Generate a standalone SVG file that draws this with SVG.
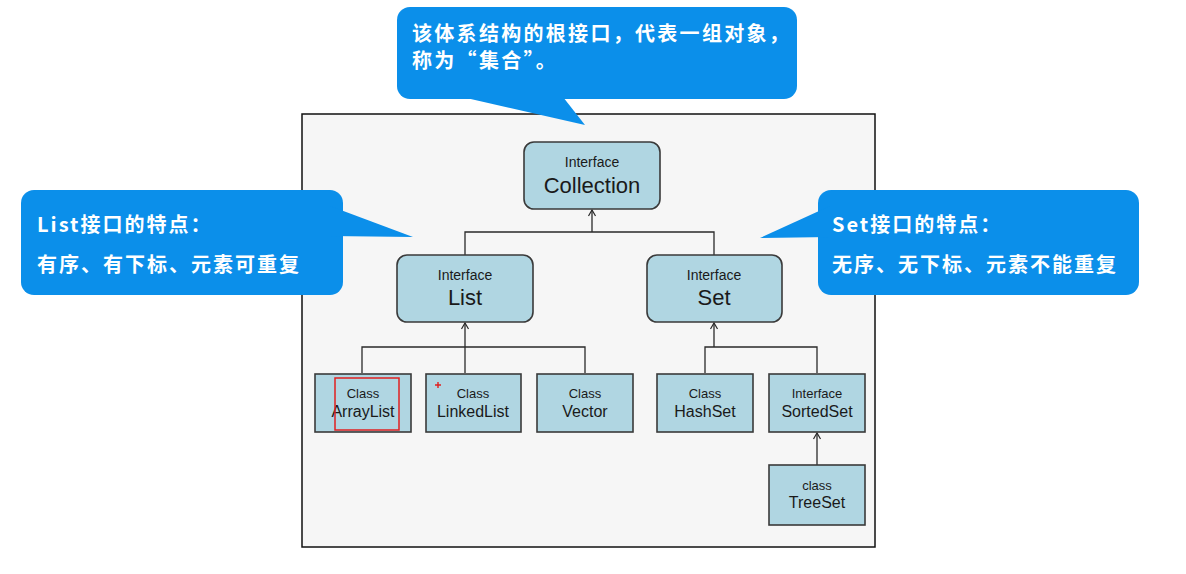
<svg xmlns="http://www.w3.org/2000/svg" width="1186" height="574" viewBox="0 0 1186 574">
<defs>
<style>
.frame{fill:#f6f6f6;stroke:#111;stroke-width:1.5}
.ibox{fill:#b0d6e2;stroke:#3a3a3a;stroke-width:1.6}
.cbox{fill:#b0d6e2;stroke:#3a3a3a;stroke-width:1.6}
.small{font-family:"Liberation Sans",Arial,sans-serif;fill:#1a1a1a;text-anchor:middle}
.conn{fill:none;stroke:#2a2a2a;stroke-width:1.3}
.bubble{fill:#0b8fea}
.btxt{font-family:"Noto Sans CJK SC",sans-serif;font-weight:bold;fill:#ffffff;font-size:20px}
</style>
<marker id="arr" viewBox="-8 -5 10 10" refX="0" refY="0" markerWidth="10" markerHeight="10" markerUnits="userSpaceOnUse" orient="auto">
<path d="M-6,-3.5 L0,0 L-6,3.5" fill="none" stroke="#2a2a2a" stroke-width="1.2"/>
</marker>
</defs>
<rect width="1186" height="574" fill="#ffffff"/>
<rect class="frame" x="302" y="114" width="573" height="433"/>

<g id="connectors">
<line class="conn" x1="592" y1="232" x2="592" y2="210" marker-end="url(#arr)"/>
<polyline class="conn" points="465,255 465,232 714,232 714,255"/>
<line class="conn" x1="465" y1="347" x2="465" y2="323" marker-end="url(#arr)"/>
<polyline class="conn" points="362,373 362,347 585,347 585,373"/>
<line class="conn" x1="465" y1="347" x2="465" y2="373"/>
<line class="conn" x1="714" y1="347" x2="714" y2="323" marker-end="url(#arr)"/>
<polyline class="conn" points="705,373 705,347 817,347 817,373"/>
<line class="conn" x1="817" y1="465" x2="817" y2="433" marker-end="url(#arr)"/>
</g>

<g id="collection">
<rect class="ibox" x="524" y="142" width="136" height="67" rx="10"/>
<text class="small" x="592" y="167" font-size="14">Interface</text>
<text class="small" x="592" y="193" font-size="22">Collection</text>
</g>
<g id="list">
<rect class="ibox" x="397" y="255" width="136" height="67" rx="10"/>
<text class="small" x="465" y="280" font-size="14">Interface</text>
<text class="small" x="465" y="305" font-size="22">List</text>
</g>
<g id="set">
<rect class="ibox" x="647" y="255" width="135" height="67" rx="10"/>
<text class="small" x="714" y="280" font-size="14">Interface</text>
<text class="small" x="714" y="305" font-size="22">Set</text>
</g>
<g id="arraylist">
<rect class="cbox" x="315" y="374" width="96" height="58"/>
<text class="small" x="363" y="398" font-size="13">Class</text>
<text class="small" x="363" y="417" font-size="16">ArrayList</text>
<rect x="335" y="378" width="64" height="52" fill="none" stroke="#e02020" stroke-width="1.5"/>
</g>
<g id="linkedlist">
<rect class="cbox" x="426" y="374" width="95" height="58"/>
<text class="small" x="473" y="398" font-size="13">Class</text>
<text class="small" x="473" y="417" font-size="16">LinkedList</text>
<path d="M435,385 h6 M438,382 v6" stroke="#e02020" stroke-width="1.4"/>
</g>
<g id="vector">
<rect class="cbox" x="537" y="374" width="96" height="58"/>
<text class="small" x="585" y="398" font-size="13">Class</text>
<text class="small" x="585" y="417" font-size="16">Vector</text>
</g>
<g id="hashset">
<rect class="cbox" x="657" y="374" width="96" height="58"/>
<text class="small" x="705" y="398" font-size="13">Class</text>
<text class="small" x="705" y="417" font-size="16">HashSet</text>
</g>
<g id="sortedset">
<rect class="cbox" x="769" y="374" width="96" height="58"/>
<text class="small" x="817" y="398" font-size="13">Interface</text>
<text class="small" x="817" y="417" font-size="16">SortedSet</text>
</g>
<g id="treeset">
<rect class="cbox" x="769" y="465" width="96" height="60"/>
<text class="small" x="817" y="490" font-size="13">class</text>
<text class="small" x="817" y="508" font-size="16">TreeSet</text>
</g>

<g id="callout-top">
<rect class="bubble" x="397" y="7" width="400" height="92" rx="13"/>
<polygon class="bubble" points="462,97 563,97 585,125"/>
<text class="btxt" x="412" y="41" font-size="19" letter-spacing="2.3">该体系结构的根接口，代表一组对象，</text>
<text class="btxt" x="412" y="68" font-size="19" letter-spacing="2.3">称为“集合”。</text>
</g>
<g id="callout-list">
<rect class="bubble" x="21" y="190" width="322" height="105" rx="13"/>
<polygon class="bubble" points="330,206 413,237 330,236"/>
<text class="btxt" x="37" y="232" font-size="19" letter-spacing="2">List接口的特点：</text>
<text class="btxt" x="37" y="272" letter-spacing="2">有序、有下标、元素可重复</text>
</g>
<g id="callout-set">
<rect class="bubble" x="818" y="190" width="321" height="105" rx="13"/>
<polygon class="bubble" points="830,206 760,238 830,237"/>
<text class="btxt" x="832" y="232" font-size="19" letter-spacing="2">Set接口的特点：</text>
<text class="btxt" x="832" y="272" letter-spacing="2">无序、无下标、元素不能重复</text>
</g>
</svg>
